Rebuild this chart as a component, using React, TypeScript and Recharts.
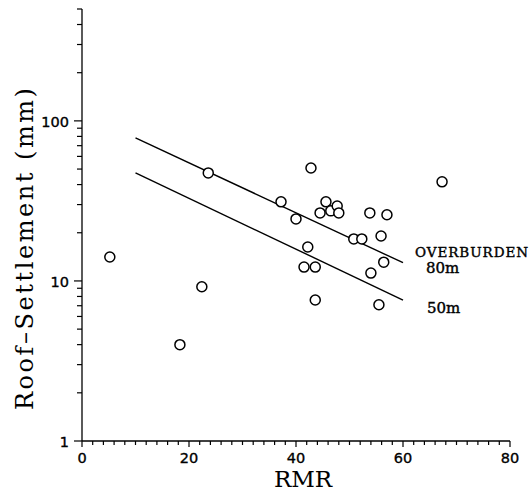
import React from 'react';
import { ScatterChart, Scatter, XAxis, YAxis } from 'recharts';

// Observed data (RMR vs roof settlement, mm)
const rmr = [5.2, 18.3, 22.4, 23.6, 42.8, 67.3, 37.2, 40.0, 45.6, 44.5, 46.5, 47.7, 48.0, 53.8, 57.0, 50.8, 52.3, 55.9, 42.2, 41.5, 43.6, 56.4, 54.0, 43.6, 55.5];
const settlement = [14.1, 4.0, 9.2, 47.3, 50.8, 41.6, 31.2, 24.4, 31.2, 26.6, 27.4, 29.4, 26.6, 26.6, 25.9, 18.3, 18.3, 19.1, 16.3, 12.2, 12.2, 13.1, 11.2, 7.6, 7.1];

// Fitted lines for two overburden depths
const lineRmr = [10, 60];
const line80m = [78.3, 13.0];
const line50m = [47.3, 7.6];

// Axis ticks
const xTicks = [0, 2, 4, 6, 8, 10, 12, 14, 16, 18, 20, 22, 24, 26, 28, 30, 32, 34, 36, 38, 40, 42, 44, 46, 48, 50, 52, 54, 56, 58, 60, 62, 64, 66, 68, 70, 72, 74, 76, 78, 80];
const xMajor = [0, 20, 40, 60, 80];
const yTicks = [1, 2, 3, 4, 5, 6, 7, 8, 9, 10, 20, 30, 40, 50, 60, 70, 80, 90, 100, 200, 300, 400, 500];
const yMajor = [1, 10, 100];

const points = rmr.map((x, i) => ({ x, y: settlement[i] }));
const upper = lineRmr.map((x, i) => ({ x, y: line80m[i] }));
const lower = lineRmr.map((x, i) => ({ x, y: line50m[i] }));

const tickFont = 'DejaVu Sans, sans-serif';
const serif = 'DejaVu Serif, serif';

const XTick = (props: any) => {
  const { x, y, payload } = props;
  const major = xMajor.includes(payload.value);
  return (
    <g>
      <line x1={x} x2={x} y1={y} y2={y + (major ? 6 : 4)} stroke="#000" strokeWidth={1.2} />
      {major && (
        <text x={x} y={y + 22} textAnchor="middle" fontFamily={tickFont} fontSize={14.5} fill="#000" stroke="#000" strokeWidth={0.35}>
          {payload.value}
        </text>
      )}
    </g>
  );
};

const YTick = (props: any) => {
  const { x, y, payload } = props;
  const major = yMajor.includes(payload.value);
  return (
    <g>
      <line x1={x - (major ? 8 : 5)} x2={x} y1={y} y2={y} stroke="#000" strokeWidth={1.2} />
      {major && (
        <text x={x - 13} y={y + 6} textAnchor="end" fontFamily={tickFont} fontSize={14.5} fill="#000" stroke="#000" strokeWidth={0.35}>
          {payload.value}
        </text>
      )}
    </g>
  );
};

const Circle = (props: any) => {
  const { cx, cy } = props;
  if (cx == null || cy == null) return <g />;
  return <circle cx={cx} cy={cy} r={5} fill="#fff" stroke="#000" strokeWidth={1.5} />;
};

const NoShape = () => <g />;

export default function App() {
  return (
    <div style={{ position: 'absolute', left: 0, top: 0, width: 530, height: 492, background: '#fff' }}>
      <ScatterChart width={530} height={492} margin={{ top: 9, right: 20, bottom: 0, left: 0 }}>
        <XAxis
          type="number"
          dataKey="x"
          domain={[0, 80]}
          ticks={xTicks}
          interval={0}
          height={51}
          tickSize={0}
          tickMargin={0}
          tickLine={false}
          axisLine={{ stroke: '#000', strokeWidth: 1.3 }}
          tick={<XTick />}
        />
        <YAxis
          type="number"
          dataKey="y"
          scale="log"
          domain={[1, 500]}
          allowDataOverflow
          ticks={yTicks}
          interval={0}
          width={82}
          tickSize={0}
          tickMargin={0}
          tickLine={false}
          axisLine={{ stroke: '#000', strokeWidth: 1.3 }}
          tick={<YTick />}
        />
        <Scatter data={upper} line={{ stroke: '#000', strokeWidth: 1.4 }} shape={<NoShape />} isAnimationActive={false} legendType="none" />
        <Scatter data={lower} line={{ stroke: '#000', strokeWidth: 1.4 }} shape={<NoShape />} isAnimationActive={false} legendType="none" />
        <Scatter data={points} shape={<Circle />} isAnimationActive={false} legendType="none" />
      </ScatterChart>
      <svg width={530} height={492} style={{ position: 'absolute', left: 0, top: 0, pointerEvents: 'none' }}>
        <text
          x={33}
          y={249}
          transform="rotate(-90, 33, 249)"
          textAnchor="middle"
          fontFamily={serif}
          fontSize={24}
          textLength={322}
          lengthAdjust="spacing"
          fill="#000"
        >
          Roof–Settlement (mm)
        </text>
        <text x={303} y={487} textAnchor="middle" fontFamily={serif} fontSize={23} fill="#000">
          RMR
        </text>
        <text x={415} y={257} fontFamily={serif} fontSize={13.5} textLength={113} lengthAdjust="spacing" fill="#000" stroke="#000" strokeWidth={0.4}>
          OVERBURDEN
        </text>
        <text x={426} y={273} fontFamily={serif} fontSize={15} fill="#000" stroke="#000" strokeWidth={0.4}>
          80m
        </text>
        <text x={427} y={313} fontFamily={serif} fontSize={15} fill="#000" stroke="#000" strokeWidth={0.4}>
          50m
        </text>
      </svg>
    </div>
  );
}
